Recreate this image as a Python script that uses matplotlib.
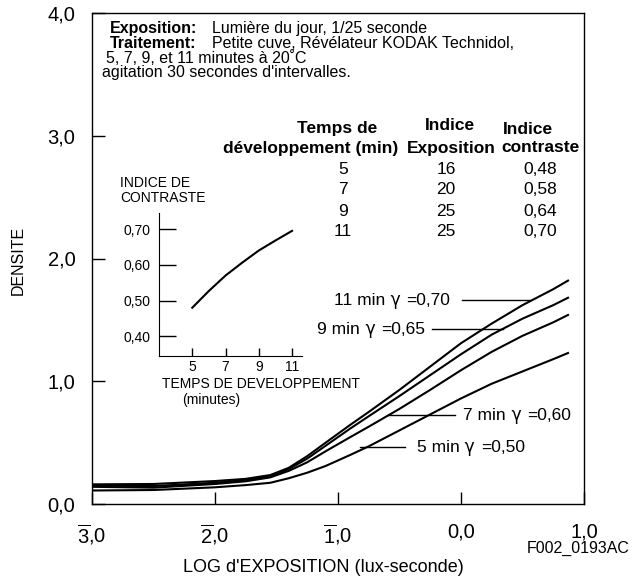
import matplotlib
matplotlib.use('Agg')
import matplotlib.pyplot as plt
import numpy as np

plt.rcParams['font.family'] = ['Liberation Sans', 'DejaVu Sans']
plt.rcParams['mathtext.fontset'] = 'custom'
plt.rcParams['mathtext.rm'] = 'Liberation Sans'
plt.rcParams['mathtext.default'] = 'regular'

# characteristic curves: log exposure vs density
log_e = [-3.0, -2.5, -2.0, -1.75, -1.55, -1.4, -1.25, -1.1, -0.9, -0.75,
         -0.5, -0.25, 0.0, 0.25, 0.5, 0.75, 0.87]
d_11 = [0.16, 0.163, 0.187, 0.205, 0.236, 0.295, 0.39, 0.50, 0.645, 0.75,
        0.93, 1.12, 1.31, 1.47, 1.62, 1.75, 1.82]
d_9 = [0.15, 0.146, 0.173, 0.195, 0.228, 0.285, 0.37, 0.475, 0.615, 0.715,
       0.88, 1.05, 1.22, 1.38, 1.51, 1.62, 1.68]
d_7 = [0.14, 0.133, 0.163, 0.185, 0.217, 0.27, 0.34, 0.43, 0.545, 0.63,
       0.775, 0.93, 1.09, 1.24, 1.37, 1.48, 1.54]
d_5 = [0.11, 0.114, 0.136, 0.154, 0.173, 0.21, 0.255, 0.31, 0.40, 0.47,
       0.60, 0.73, 0.86, 0.98, 1.08, 1.18, 1.23]
curves = [d_11, d_9, d_7, d_5]

# curve labels: (minutes, gamma)
lab_min = ['11 min', '9 min', '7 min', '5 min']
lab_gamma = ['=0,70', '=0,65', '=0,60', '=0,50']
label_y = [1.659, 1.423, 0.724, 0.463]
leader_x0 = [0.008, -0.236, -0.593, -0.821]
leader_x1 = [0.561, 0.341, -0.049, -0.455]
text_x = [-0.09, -0.29, 0.02, -0.36]
text_ha = ['right', 'right', 'left', 'left']

# inset: contrast index vs development time
dev_time = [5, 6, 7, 8, 9, 10, 11]
contrast = [0.48, 0.527, 0.57, 0.606, 0.64, 0.668, 0.695]

# table
t_minutes = ['5', '7', '9', '11']
t_expo = ['16', '20', '25', '25']
t_contrast = ['0,48', '0,58', '0,64', '0,70']

x_ticks = [-3, -2, -1, 0, 1]
x_ticklabels = [r'$\overline{3}$,0', r'$\overline{2}$,0', r'$\overline{1}$,0', '0,0', '1,0']
y_ticks = [0, 1, 2, 3, 4]
y_ticklabels = ['0,0', '1,0', '2,0', '3,0', '4,0']

W, H = 632, 581
fig = plt.figure(figsize=(W / 100, H / 100), dpi=100)


def px(x, y):
    return x / W, 1 - y / H


ax = fig.add_axes([92 / W, 1 - 504 / H, 492 / W, 491 / H])
for d in curves:
    ax.plot(log_e, d, color='black', lw=1.5)
ax.set_xlim(-3, 1)
ax.set_ylim(0, 4)
ax.set_xticks(x_ticks)
ax.set_xticklabels(x_ticklabels)
ax.set_yticks(y_ticks)
ax.set_yticklabels(y_ticklabels)
ax.tick_params(direction='in', length=9, width=1, labelsize=14.5, pad=12)
ax.tick_params(axis='x', pad=13)
for s in ax.spines.values():
    s.set_linewidth(1)

fs_lab = 12.5
for i in range(len(lab_min)):
    ax.plot([leader_x0[i], leader_x1[i]], [label_y[i], label_y[i]], color='black', lw=1)
    if text_ha[i] == 'right':
        t3 = ax.text(text_x[i], label_y[i], lab_gamma[i], ha='right', va='center', fontsize=fs_lab)
        t2 = ax.annotate(' γ ', xy=(0, 0.5), xycoords=t3, ha='right', va='center',
                         fontsize=fs_lab, family='DejaVu Sans')
        ax.annotate(lab_min[i], xy=(0, 0.5), xycoords=t2, ha='right', va='center', fontsize=fs_lab)
    else:
        t1 = ax.text(text_x[i], label_y[i], lab_min[i], ha='left', va='center', fontsize=fs_lab)
        t2 = ax.annotate(' γ ', xy=(1, 0.5), xycoords=t1, ha='left', va='center',
                         fontsize=fs_lab, family='DejaVu Sans')
        ax.annotate(lab_gamma[i], xy=(1, 0.5), xycoords=t2, ha='left', va='center', fontsize=fs_lab)

fig.text(*px(18, 260), 'DENSITE', rotation=90, ha='center', va='center', fontsize=11.5)
fig.text(*px(323, 567), "LOG d'EXPOSITION (lux-seconde)", ha='center', va='center', fontsize=13)
fig.text(*px(630, 548), 'F002_0193AC', ha='right', va='center', fontsize=11.5)

# header text
fig.text(*px(110, 29), 'Exposition:', fontweight='bold', ha='left', va='center', fontsize=11.5)
fig.text(*px(212, 29), 'Lumière du jour, 1/25 seconde', ha='left', va='center', fontsize=11.5)
fig.text(*px(110, 44), 'Traitement:', fontweight='bold', ha='left', va='center', fontsize=11.5)
fig.text(*px(212, 44), 'Petite cuve, Révélateur KODAK Technidol,', ha='left', va='center', fontsize=11.5)
fig.text(*px(106, 58), '5, 7, 9, et 11 minutes à 20˚C', ha='left', va='center', fontsize=11.5)
fig.text(*px(102, 73), "agitation 30 secondes d'intervalles.", ha='left', va='center', fontsize=11.5)

# table
fs_tab = 12.5
fig.text(*px(337, 128), 'Temps de', fontweight='bold', ha='center', va='center', fontsize=fs_tab)
fig.text(*px(311, 149), 'développement (min)', fontweight='bold', ha='center', va='center', fontsize=fs_tab)
fig.text(*px(450, 126), 'Indice', fontweight='bold', ha='center', va='center', fontsize=fs_tab)
fig.text(*px(451, 148), 'Exposition', fontweight='bold', ha='center', va='center', fontsize=fs_tab)
fig.text(*px(528, 129), 'Indice', fontweight='bold', ha='center', va='center', fontsize=fs_tab)
fig.text(*px(541, 148), 'contraste', fontweight='bold', ha='center', va='center', fontsize=fs_tab)
row_y = [170, 190, 211, 232]
for i in range(len(t_minutes)):
    fig.text(*px(343, row_y[i]), t_minutes[i], ha='center', va='center', fontsize=fs_tab)
    fig.text(*px(446, row_y[i]), t_expo[i], ha='center', va='center', fontsize=fs_tab)
    fig.text(*px(540, row_y[i]), t_contrast[i], ha='center', va='center', fontsize=fs_tab)

# inset
axi = fig.add_axes([159 / W, 1 - 356 / H, 143 / W, 143 / H])
axi.plot(dev_time, contrast, color='black', lw=1.5)
axi.set_xlim(3.0, 11.6)
axi.set_ylim(0.345, 0.745)
axi.set_xticks([5, 7, 9, 11])
axi.set_yticks([0.4, 0.5, 0.6, 0.7])
axi.set_yticklabels(['0,40', '0,50', '0,60', '0,70'])
axi.tick_params(axis='y', direction='in', length=12, width=1, labelsize=10, pad=6)
axi.tick_params(axis='x', direction='in', length=6, width=1, labelsize=10, pad=3)
axi.spines['top'].set_visible(False)
axi.spines['right'].set_visible(False)
axi.patch.set_alpha(0)
fig.text(*px(120, 183), 'INDICE DE', ha='left', va='center', fontsize=10)
fig.text(*px(120, 198), 'CONTRASTE', ha='left', va='center', fontsize=10)
fig.text(*px(261, 384), 'TEMPS DE DEVELOPPEMENT', ha='center', va='center', fontsize=10)
fig.text(*px(211, 400), '(minutes)', ha='center', va='center', fontsize=10)

fig.savefig('out.png', dpi=100)
